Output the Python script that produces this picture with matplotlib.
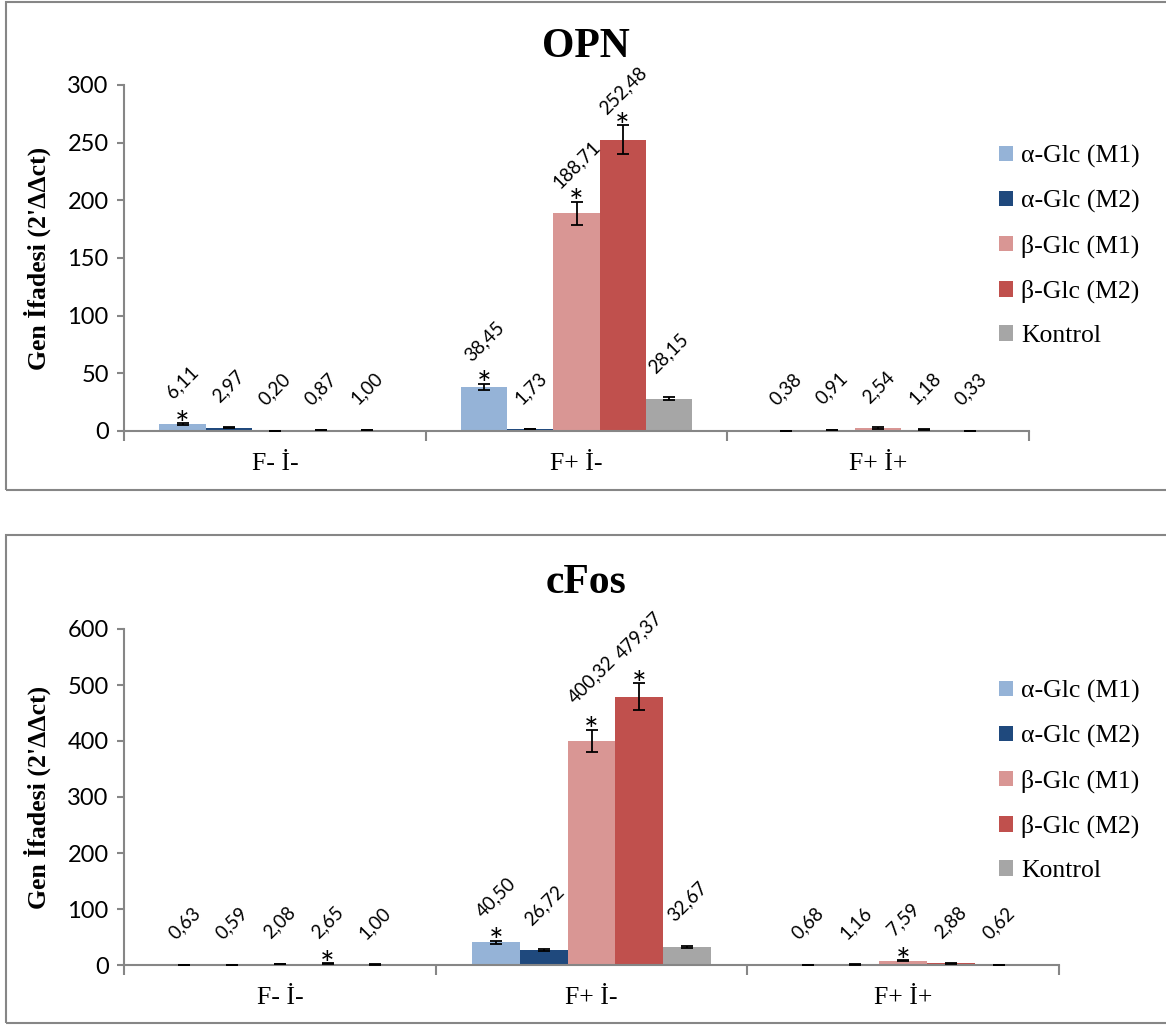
import numpy as np
import matplotlib.pyplot as plt
from matplotlib.patches import Rectangle

# -- Data --
groups = ["F- İ-", "F+ İ-", "F+ İ+"]
series = ["α-Glc (M1)", "α-Glc (M2)", "β-Glc (M1)", "β-Glc (M2)", "Kontrol"]
colors = ["#95B3D7", "#1F497D", "#D99694", "#C0504D", "#A6A6A6"]

# rows = series, columns = groups
opn_vals = [[6.11, 38.45, 0.38],
            [2.97, 1.73, 0.91],
            [0.20, 188.71, 2.54],
            [0.87, 252.48, 1.18],
            [1.00, 28.15, 0.33]]
opn_err = [[0.6, 2.5, 0.05],
           [0.4, 0.3, 0.2],
           [0.05, 10.0, 0.6],
           [0.2, 12.5, 0.2],
           [0.1, 1.5, 0.05]]
opn_star = [[1, 1, 0],
            [0, 0, 0],
            [0, 1, 0],
            [0, 1, 0],
            [0, 0, 0]]

cfos_vals = [[0.63, 40.50, 0.68],
             [0.59, 26.72, 1.16],
             [2.08, 400.32, 7.59],
             [2.65, 479.37, 2.88],
             [1.00, 32.67, 0.62]]
cfos_err = [[0.2, 3.0, 0.1],
            [0.2, 2.0, 0.3],
            [0.5, 20.0, 1.0],
            [0.6, 24.0, 0.6],
            [0.2, 2.0, 0.1]]
cfos_star = [[0, 1, 0],
             [0, 0, 0],
             [0, 1, 1],
             [1, 1, 0],
             [0, 0, 0]]

SERIF = "Liberation Serif"
SANS = "Lato"
GRAY = "#868686"


def draw_panel(ax, vals, errs, stars, ymax, ystep, leg_y, lifted=()):
    x = np.arange(len(groups))
    w = 0.153
    for i, name in enumerate(series):
        xs = x + (i - 2) * w
        ax.bar(xs, vals[i], w, color=colors[i], label=name, zorder=2)
        ax.errorbar(xs, vals[i], yerr=errs[i], fmt="none", ecolor="black",
                    elinewidth=1.3, capsize=4, capthick=1.3, zorder=3)
        for j in range(len(groups)):
            v = vals[i][j]
            off = 25 if (i, j) in lifted else 16
            ax.annotate(f"{v:.2f}".replace(".", ","), (xs[j], v),
                        xytext=(0, off), textcoords="offset points",
                        rotation=45, ha="center", va="bottom",
                        fontsize=13.5, family=SANS)
            if stars[i][j]:
                ax.annotate("*", (xs[j], v + errs[i][j]),
                            xytext=(0, -9), textcoords="offset points",
                            ha="center", va="baseline", fontsize=25,
                            family=SANS)

    ax.set_xlim(-0.5, 2.5)
    ax.set_ylim(0, ymax)
    ax.set_yticks(np.arange(0, ymax + 1, ystep))
    ax.set_xticks([-0.5, 0.5, 1.5, 2.5])
    ax.set_xticklabels([])
    ax.set_xticks(x, minor=True)
    ax.set_xticklabels(groups, minor=True)
    ax.tick_params(axis="x", which="minor", length=0, pad=16, labelsize=18.5)
    for lab in ax.get_xticklabels(minor=True):
        lab.set_family(SERIF)
    ax.tick_params(axis="x", which="major", length=7, width=1.5, color=GRAY)
    ax.tick_params(axis="y", length=5, width=1.5, color=GRAY, labelsize=17,
                   pad=6)
    for lab in ax.get_yticklabels():
        lab.set_family(SANS)
    for s in ["top", "right"]:
        ax.spines[s].set_visible(False)
    for s in ["left", "bottom"]:
        ax.spines[s].set_color(GRAY)
        ax.spines[s].set_linewidth(1.5)

    ax.set_ylabel("Gen İfadesi (2'ΔΔct)", fontsize=18.5, fontweight="bold",
                  family=SERIF)
    ax.yaxis.label.set_va("center")

    fig.legend(*ax.get_legend_handles_labels(), loc="center left",
               bbox_to_anchor=(999 / 1166, leg_y), frameon=False,
               borderpad=0, borderaxespad=0, labelspacing=0.85,
               handlelength=0.55, handleheight=0.55, handletextpad=0.3,
               prop={"family": SERIF, "size": 18.5})


fig = plt.figure(figsize=(11.66, 10.25), dpi=100)

# chart borders
fig.patches.append(Rectangle((6 / 1166, 1 - 490 / 1025), 1.0, 488 / 1025,
                             transform=fig.transFigure, fill=False,
                             edgecolor=GRAY, lw=1.5))
fig.patches.append(Rectangle((6 / 1166, 1 - 1023 / 1025), 1.0, 488 / 1025,
                             transform=fig.transFigure, fill=False,
                             edgecolor=GRAY, lw=1.5))

ax1 = fig.add_axes([124 / 1166, 1 - 431 / 1025, 905 / 1166, 346 / 1025])
draw_panel(ax1, opn_vals, opn_err, opn_star, 300, 50, 1 - 246 / 1025)
ax1.yaxis.set_label_coords((37 - 124) / 905, 0.5)

ax2 = fig.add_axes([124 / 1166, 1 - 965 / 1025, 935 / 1166, 336 / 1025])
draw_panel(ax2, cfos_vals, cfos_err, cfos_star, 600, 100, 1 - 781 / 1025,
           lifted=[(2, 1), (3, 1)])
ax2.yaxis.set_label_coords((37 - 124) / 935, 0.5)

fig.text(586 / 1166, 1 - 47 / 1025, "OPN", ha="center", va="center",
         fontsize=30, fontweight="bold", family=SERIF)
fig.text(586 / 1166, 1 - 583 / 1025, "cFos", ha="center", va="center",
         fontsize=30, fontweight="bold", family=SERIF)

fig.savefig("out.png", dpi=100)
